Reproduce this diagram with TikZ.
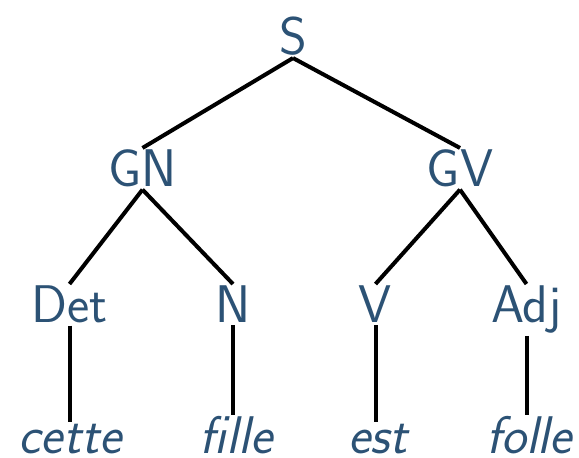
\documentclass[tikz,border=0pt]{standalone}
\usepackage{fontspec}
\definecolor{treeblue}{RGB}{44,82,117}
\begin{document}
\begin{tikzpicture}[x=1pt,y=1pt,
  lab/.style={anchor=base,inner sep=2pt,text=treeblue,font=\fontsize{53}{60}\selectfont\sffamily},
  word/.style={lab,font=\fontsize{53}{60}\selectfont\sffamily\itshape},
  edge/.style={draw=black,line width=4pt}]
\useasboundingbox (0,0) rectangle (579,458);
\node[lab] (S) at (293,403) {S};
\node[lab] (GN) at (142.5,271) {GN};
\node[lab] (GV) at (460,271) {GV};
\node[lab] (Det) at (69.5,135) {Det};
\node[lab] (N) at (233,135) {N};
\node[lab] (V) at (375.5,135) {V};
\node[lab] (Adj) at (526.5,135) {Adj};
\node[word] (cette) at (70,4) {cette};
\node[word] (fille) at (236,4) {fille};
\node[word] (est) at (378,4) {est};
\node[word] (folle) at (529,4) {folle};
\draw[edge] (S.south) -- (GN.north);
\draw[edge] (S.south) -- (GV.north);
\draw[edge] (GN.south) -- (Det.north);
\draw[edge] (GN.south) -- (N.north);
\draw[edge] (GV.south) -- (V.north);
\draw[edge] (GV.south) -- (Adj.north);
\draw[edge] (Det.south) -- (Det.south |- cette.north);
\draw[edge] (N.south) -- (N.south |- fille.north);
\draw[edge] (V.south) -- (V.south |- est.north);
\draw[edge] (Adj.south) -- (Adj.south |- folle.north);
\end{tikzpicture}
\end{document}
